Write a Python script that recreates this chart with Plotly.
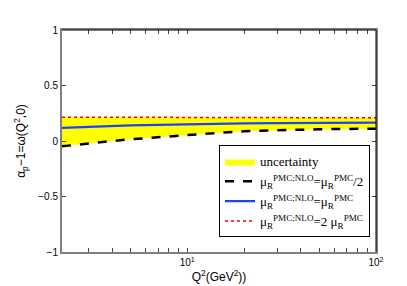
import plotly.graph_objects as go

# Data
q2 = [2.17, 3, 4, 5, 7, 10, 15, 20, 30, 50, 70, 100]
lower_half = [-0.048, -0.02, 0.0, 0.015, 0.035, 0.055, 0.075, 0.088, 0.098, 0.106, 0.109, 0.111]
central = [0.118, 0.128, 0.135, 0.140, 0.146, 0.152, 0.156, 0.159, 0.161, 0.163, 0.164, 0.165]
upper_double = [0.215, 0.214, 0.213, 0.212, 0.211, 0.210, 0.210, 0.209, 0.210, 0.210, 0.209, 0.209]

x_tickvals = [3, 4, 5, 6, 7, 8, 9, 10, 20, 30, 40, 50, 60, 70, 80, 90, 100]
x_ticktext = ["" if v not in (10, 100) else ("10<sup>1</sup>" if v == 10 else "10<sup>2</sup>") for v in x_tickvals]
y_tickvals = [-1, -0.5, 0, 0.5, 1]
y_ticktext = ["\u22121", "\u22120.5", "0", "0.5", "1"]

fig = go.Figure()
fig.add_trace(go.Scatter(x=q2, y=lower_half, mode="lines", line=dict(width=0, color="yellow"),
                         showlegend=False, hoverinfo="skip"))
fig.add_trace(go.Scatter(x=q2, y=upper_double, mode="lines", line=dict(width=0, color="yellow"),
                         fill="tonexty", fillcolor="#ffff00", name="uncertainty"))
fig.add_trace(go.Scatter(x=q2, y=lower_half, mode="lines", line=dict(color="black", width=2.5, dash="dash"),
                         name="μ<sub>R</sub><sup>PMC;NLO</sup>=μ<sub>R</sub><sup>PMC</sup>/2"))
fig.add_trace(go.Scatter(x=q2, y=central, mode="lines", line=dict(color="#2040ff", width=2.2),
                         name="μ<sub>R</sub><sup>PMC;NLO</sup>=μ<sub>R</sub><sup>PMC</sup>"))
fig.add_trace(go.Scatter(x=q2, y=upper_double, mode="lines", line=dict(color="red", width=1.5, dash="dot"),
                         name="μ<sub>R</sub><sup>PMC;NLO</sup>=2 μ<sub>R</sub><sup>PMC</sup>"))

axis_font = dict(family="Liberation Sans, Arial, sans-serif", size=10, color="black")

fig.update_layout(
    width=407, height=286,
    margin=dict(l=52, r=39, t=22, b=38),
    paper_bgcolor="white", plot_bgcolor="white",
    font=axis_font,
    xaxis=dict(type="log", range=[0.3365, 2], tickvals=x_tickvals, ticktext=x_ticktext,
               ticks="inside", ticklen=4, tickcolor="#444", showgrid=False, zeroline=False,
               showline=True, linecolor="#808080", linewidth=2, mirror="ticks",
               title=dict(text="Q<sup>2</sup>(GeV<sup>2</sup>))", font=dict(size=12), standoff=6),
               tickfont=dict(size=10)),
    yaxis=dict(range=[-1, 1], tickvals=y_tickvals, ticktext=y_ticktext,
               ticks="inside", ticklen=4, tickcolor="#444", showgrid=False, zeroline=False,
               showline=True, linecolor="#808080", linewidth=2, mirror="ticks",
               title=dict(text="α<sub>p</sub>−1=ω(Q<sup>2</sup>,0)", font=dict(size=12), standoff=10),
               tickfont=dict(size=10)),
    legend=dict(x=0.50, y=0.48, xanchor="left", yanchor="top", traceorder="normal",
                bgcolor="white", bordercolor="black", borderwidth=1,
                font=dict(family="Liberation Serif, Times New Roman, serif", size=13, color="black"),
                tracegroupgap=0, itemwidth=30),
    shapes=[
        dict(type="line", xref="paper", yref="paper", x0=0, x1=1, y0=1, y1=1, line=dict(color="black", width=1)),
        dict(type="line", xref="paper", yref="paper", x0=1, x1=1, y0=0, y1=1, line=dict(color="black", width=1)),
    ],
)

fig.write_html("out.html")
